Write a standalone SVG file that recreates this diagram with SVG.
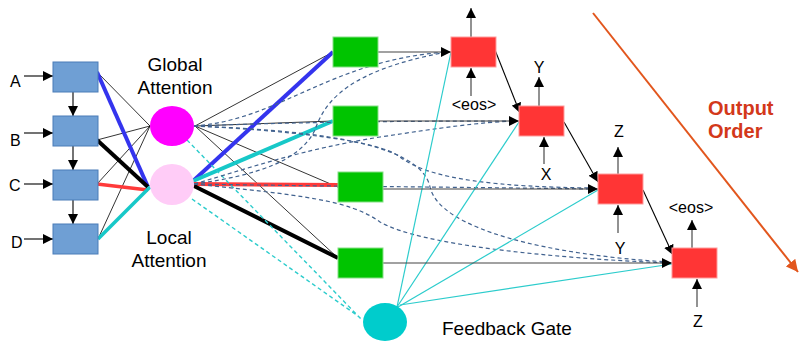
<svg xmlns="http://www.w3.org/2000/svg" width="800" height="342" viewBox="0 0 800 342">
  <defs>
    <style>
      .lbl { font-family: "Liberation Sans", Arial, sans-serif; fill: #000; }
      .big { font-size: 19px; text-anchor: middle; }
      .io { font-size: 16px; text-anchor: middle; }
      .inp { font-size: 16px; }
      .enc { fill: #6f9fd4; stroke: #4b7db8; stroke-width: 1; }
      .ctx { fill: #00c400; stroke: #86e086; stroke-width: 1; }
      .dec { fill: #ff3535; stroke: #ff9c9c; stroke-width: 1; }
      .thin { stroke: #000; stroke-width: 0.8; fill: none; }
      .arr { stroke: #000; stroke-width: 1.1; fill: none; marker-end: url(#ah); }
      .feed { stroke: #444; stroke-width: 1.2; fill: none; marker-end: url(#ah); }
      .vert { stroke: #777; stroke-width: 1.6; fill: none; marker-end: url(#ah); }
      .att { stroke: #41628f; stroke-width: 1.2; stroke-dasharray: 4 3; fill: none; }
      .gate { stroke: #2ccccc; stroke-width: 1.2; fill: none; }
      .gated { stroke: #2ccccc; stroke-width: 1.4; stroke-dasharray: 4 3; fill: none; }
    </style>
    <marker id="ah" viewBox="0 0 10 10" refX="10" refY="5" markerWidth="10" markerHeight="10" markerUnits="userSpaceOnUse" orient="auto">
      <path d="M0,0 L10,5 L0,10 z" fill="#000"/>
    </marker>
    <marker id="oh" viewBox="0 0 12 12" refX="12" refY="6" markerWidth="12" markerHeight="12" markerUnits="userSpaceOnUse" orient="auto">
      <path d="M0,0 L12,6 L0,12 z" fill="#e2561d"/>
    </marker>
  </defs>
  <rect width="800" height="342" fill="#fff"/>

  <g id="connectors">
    <!-- inputs and encoder chain -->
    <line class="arr" x1="24" y1="76" x2="53" y2="76"/>
    <line class="arr" x1="24" y1="133" x2="53" y2="133"/>
    <line class="arr" x1="24" y1="184" x2="53" y2="184"/>
    <line class="arr" x1="24" y1="239" x2="53" y2="239"/>
    <line class="arr" x1="73" y1="92" x2="73" y2="116"/>
    <line class="arr" x1="73" y1="146" x2="73" y2="170"/>
    <line class="arr" x1="73" y1="200" x2="73" y2="224"/>

    <!-- encoder to global attention -->
    <line class="thin" x1="97" y1="72" x2="150" y2="126"/>
    <line class="thin" x1="97" y1="140" x2="150" y2="126"/>
    <line class="thin" x1="97" y1="184" x2="150" y2="126"/>
    <line class="thin" x1="98" y1="239" x2="150" y2="126"/>
    <!-- encoder to local attention -->
    <line x1="97" y1="72" x2="148" y2="187" stroke="#3434ee" stroke-width="4"/>
    <line x1="97" y1="140" x2="148" y2="187" stroke="#000" stroke-width="4"/>
    <line x1="97" y1="184" x2="148" y2="190" stroke="#ff3a3a" stroke-width="3.5"/>
    <line x1="98" y1="239" x2="150" y2="187" stroke="#17c8c8" stroke-width="3.5"/>

    <!-- global attention to context boxes -->
    <line class="thin" x1="195" y1="126" x2="333" y2="52"/>
    <line class="thin" x1="195" y1="126" x2="333" y2="121"/>
    <line class="thin" x1="195" y1="126" x2="340" y2="188"/>
    <line class="thin" x1="195" y1="126" x2="338" y2="258"/>
    <!-- local attention to context boxes -->
    <line x1="192" y1="182" x2="333" y2="52" stroke="#3434ee" stroke-width="4"/>
    <line x1="193" y1="181" x2="333" y2="121" stroke="#17c8c8" stroke-width="4"/>
    <line x1="194" y1="184" x2="340" y2="185" stroke="#ff3a3a" stroke-width="4"/>
    <line x1="194" y1="186" x2="338" y2="258" stroke="#000" stroke-width="4"/>

    <!-- attention to feedback gate -->
    <line class="gated" x1="187" y1="140" x2="362" y2="320"/>
    <line class="gated" x1="192" y1="199" x2="358" y2="316"/>

    <!-- attention to decoder (dashed) -->
    <path class="att" d="M194,126 C280,120 330,60 447,52"/>
    <path class="att" d="M194,184 C260,175 300,160 315,130 C325,100 350,70 447,52"/>
    <path class="att" d="M194,126 C300,122 400,121 516,121"/>
    <path class="att" d="M194,184 C260,165 300,150 380,137 C440,128 480,122 516,121"/>
    <path class="att" d="M194,126 C280,130 380,140 400,157 C430,180 500,187 595,188"/>
    <path class="att" d="M194,184 C300,186 450,187 595,189"/>
    <path class="att" d="M194,126 C300,130 420,140 430,187 C440,230 550,255 668,262"/>
    <path class="att" d="M194,184 C300,195 350,200 380,222 C420,245 550,258 668,263"/>

    <!-- feedback gate to decoder -->
    <line class="gate" x1="397" y1="307" x2="451" y2="52"/>
    <line class="gate" x1="397" y1="307" x2="519" y2="122"/>
    <line class="gate" x1="398" y1="307" x2="598" y2="190"/>
    <line class="gate" x1="400" y1="305" x2="672" y2="264"/>

    <!-- context to decoder -->
    <line class="feed" x1="378" y1="52" x2="451" y2="52"/>
    <line class="feed" x1="378" y1="121" x2="519" y2="121"/>
    <line class="feed" x1="383" y1="189" x2="598" y2="189"/>
    <line class="feed" x1="383" y1="263" x2="672" y2="263"/>

    <!-- decoder chain -->
    <line class="arr" x1="495" y1="50" x2="520" y2="113"/>
    <line class="arr" x1="564" y1="122" x2="598" y2="182"/>
    <line class="arr" x1="643" y1="190" x2="673" y2="255"/>

    <!-- decoder inputs and outputs -->
    <line class="vert" x1="471" y1="37" x2="471" y2="8"/>
    <line class="vert" x1="471" y1="96" x2="471" y2="68"/>
    <line class="vert" x1="539" y1="106" x2="539" y2="77"/>
    <line class="vert" x1="544" y1="164" x2="544" y2="137"/>
    <line class="vert" x1="618" y1="174" x2="618" y2="147"/>
    <line class="vert" x1="618" y1="233" x2="618" y2="205"/>
    <line class="vert" x1="692" y1="248" x2="692" y2="220"/>
    <line class="vert" x1="697" y1="307" x2="697" y2="279"/>

    <!-- output order -->
    <line x1="593" y1="13" x2="798" y2="272" stroke="#e2561d" stroke-width="2" marker-end="url(#oh)"/>
  </g>

  <g id="enc-a"><rect class="enc" x="53" y="62" width="45" height="30"/><text class="lbl inp" x="10" y="87">A</text></g>
  <g id="enc-b"><rect class="enc" x="53" y="116" width="45" height="30"/><text class="lbl inp" x="10" y="146">B</text></g>
  <g id="enc-c"><rect class="enc" x="53" y="170" width="45" height="30"/><text class="lbl inp" x="9" y="191">C</text></g>
  <g id="enc-d"><rect class="enc" x="53" y="224" width="45" height="30"/><text class="lbl inp" x="11" y="248">D</text></g>

  <g id="global-attention">
    <ellipse cx="172" cy="126" rx="22" ry="20" fill="#ff00ff"/>
    <text class="lbl big" x="175" y="71">Global</text>
    <text class="lbl big" x="175" y="94">Attention</text>
  </g>
  <g id="local-attention">
    <ellipse cx="172" cy="184.5" rx="22" ry="20.5" fill="#ffccf7"/>
    <text class="lbl big" x="169" y="244">Local</text>
    <text class="lbl big" x="169" y="267">Attention</text>
  </g>

  <g id="ctx-1"><rect class="ctx" x="333" y="37" width="45" height="30"/></g>
  <g id="ctx-2"><rect class="ctx" x="333" y="106" width="45" height="30"/></g>
  <g id="ctx-3"><rect class="ctx" x="338" y="172" width="45" height="30"/></g>
  <g id="ctx-4"><rect class="ctx" x="338" y="248" width="45" height="30"/></g>

  <g id="dec-1"><rect class="dec" x="451" y="37" width="45" height="30"/><text class="lbl io" x="474" y="110">&lt;eos&gt;</text></g>
  <g id="dec-2"><rect class="dec" x="519" y="106" width="45" height="30"/><text class="lbl io" x="539" y="73">Y</text><text class="lbl io" x="546" y="180">X</text></g>
  <g id="dec-3"><rect class="dec" x="598" y="174" width="45" height="30"/><text class="lbl io" x="619" y="137">Z</text><text class="lbl io" x="620" y="254">Y</text></g>
  <g id="dec-4"><rect class="dec" x="672" y="248" width="45" height="30"/><text class="lbl io" x="691" y="213">&lt;eos&gt;</text><text class="lbl io" x="698" y="327">Z</text></g>

  <g id="feedback-gate">
    <ellipse cx="385" cy="322" rx="22" ry="19" fill="#00cccc"/>
    <text class="lbl" x="442" y="335" font-size="19">Feedback Gate</text>
  </g>

  <g id="output-order">
    <text x="708" y="115" font-family="Liberation Sans, Arial, sans-serif" font-size="20" font-weight="bold" fill="#d3381a">Output</text>
    <text x="708" y="138" font-family="Liberation Sans, Arial, sans-serif" font-size="20" font-weight="bold" fill="#d3381a">Order</text>
  </g>
</svg>
